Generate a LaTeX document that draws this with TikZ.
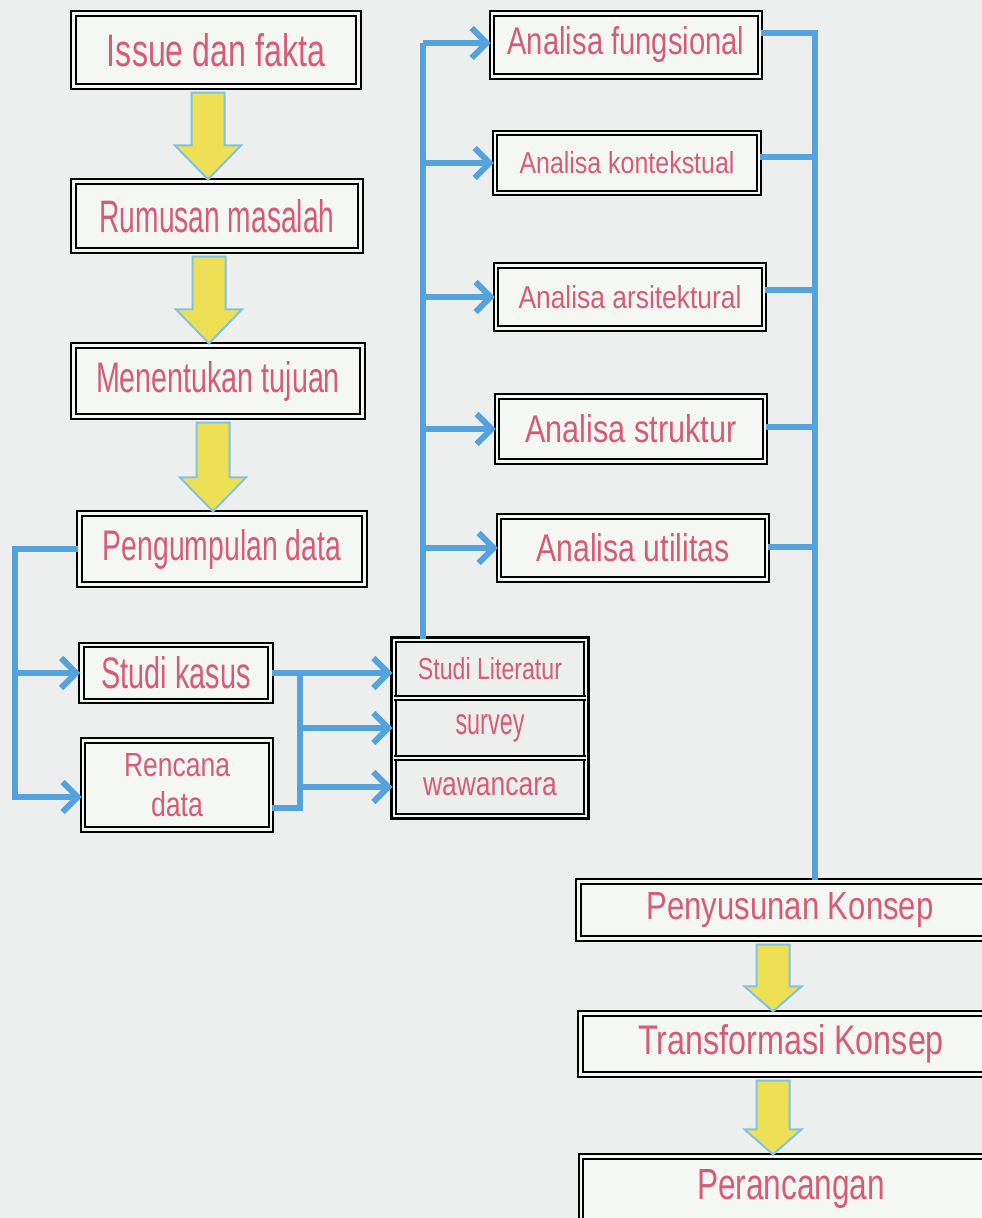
\documentclass[tikz,border=0pt]{standalone}
\usepackage{fontspec}
\setmainfont{Liberation Sans}
\usepackage{graphicx}
\usetikzlibrary{arrows.meta,calc,fit}
\definecolor{bgc}{RGB}{236,239,237}
\definecolor{boxc}{RGB}{245,247,245}
\definecolor{txc}{RGB}{214,92,118}
\definecolor{blc}{RGB}{84,163,222}
\definecolor{yelc}{RGB}{238,224,84}
\definecolor{yelo}{RGB}{128,196,226}
\newcommand\tx[3]{\resizebox{#1pt}{#2pt}{#3}}
% yellow block arrow from box #1 to box #2, x offset #3, head half width #4, head length #5
\newcommand\yarr[5]{%
  \draw[yarrow] let \p1=(#1.south), \p2=(#2.north) in
    ({\x2+#3-16.5pt},{\y1-5pt}) -- ({\x2+#3+16.5pt},{\y1-5pt}) --
    ({\x2+#3+16.5pt},{\y2+#5}) -- ({\x2+#3+#4},{\y2+#5}) --
    ({\x2+#3},{\y2+1pt}) -- ({\x2+#3-#4},{\y2+#5}) --
    ({\x2+#3-16.5pt},{\y2+#5}) -- cycle;}
\begin{document}
\begin{tikzpicture}[x=1pt,y=-1pt,
  box/.style={draw=black, line width=2.2pt, double=boxc, double distance=2.4pt,
    fill=boxc, inner sep=0pt, text=txc, align=center,
    font=\fontsize{30}{36}\selectfont},
  row/.style={inner sep=0pt, text=txc, minimum width=192pt},
  sepl/.style={draw=black, line width=2pt, double=boxc, double distance=2pt},
  bl/.style={draw=blc, line width=6pt},
  bla/.style={bl, -{Straight Barb[length=15pt,width=30pt]}},
  yarrow/.style={fill=yelc, draw=yelo, line width=2pt, line join=miter}]
\useasboundingbox (0,0) rectangle (982,1218);
\fill[bgc] (0,0) rectangle (982,1218);

% left column
\node[box, minimum width=285pt, minimum height=73pt] (issue) at (216,50) {\tx{218}{33}{Issue dan fakta}};
\node[box, minimum width=287pt, minimum height=69pt] (rumus) at (217,216) {\tx{235}{33}{Rumusan masalah}};
\node[box, minimum width=289pt, minimum height=71pt] (tujuan) at (218,381) {\tx{244}{31}{Menentukan tujuan}};
\node[box, minimum width=285pt, minimum height=71pt] (peng) at (222,549) {\tx{238}{31}{Pengumpulan data}};
\node[box, minimum width=189pt, minimum height=56pt] (sk) at (176,673) {\tx{149}{32}{Studi kasus}};
\node[box, minimum width=188pt, minimum height=89pt] (renc) at (177,785) {\tx{106}{23}{Rencana}\\[4pt]\tx{52}{25}{data}};

% studi group
\node[row, minimum height=58pt] (lit) at (490,669) {\tx{144}{22}{Studi Literatur}};
\node[row, minimum height=60pt] (surv) at (490,728) {\tx{69}{20}{survey}};
\node[row, minimum height=58pt] (waw) at (490,787) {\tx{134}{18}{wawancara}};
\node[box, fit=(lit)(waw), inner sep=0pt, fill=none] (grp) {};
\draw[sepl] (lit.south west) -- (lit.south east);
\draw[sepl] (surv.south west) -- (surv.south east);

% analisa column
\node[box, minimum width=268pt, minimum height=63pt] (fung) at (626,45) {\tx{237}{28}{Analisa fungsional}};
\node[box, minimum width=264pt, minimum height=60pt] (kont) at (627,163) {\tx{215}{22}{Analisa kontekstual}};
\node[box, minimum width=268pt, minimum height=63pt] (arsi) at (630,297) {\tx{223}{23}{Analisa arsitektural}};
\node[box, minimum width=268pt, minimum height=65pt] (strk) at (631,429) {\tx{211}{28}{Analisa struktur}};
\node[box, minimum width=268pt, minimum height=63pt] (util) at (633,548) {\tx{193}{28}{Analisa utilitas}};

% bottom column
\node[box, minimum width=423pt, minimum height=57pt] (pen) at (790,910) {\tx{287}{27}{Penyusunan Konsep}};
\node[box, minimum width=421pt, minimum height=61pt] (trans) at (791,1044) {\tx{306}{30}{Transformasi Konsep}};
\node[box, minimum width=420pt, minimum height=65pt] (peran) at (791,1189) {\tx{188}{30}{Perancangan}};

% yellow arrows
\yarr{issue}{rumus}{-9pt}{33pt}{35pt}
\yarr{rumus}{tujuan}{-9pt}{33pt}{35pt}
\yarr{tujuan}{peng}{-9pt}{33pt}{35pt}
\yarr{pen}{trans}{-18pt}{28.5pt}{26pt}
\yarr{trans}{peran}{-18pt}{28.5pt}{26pt}

% left blue connectors
\coordinate (ll) at (15,549);
\coordinate (rl) at (15,797);
\draw[bla] (peng.west) -- (ll) -- (rl) -- (rl -| renc.west);
\draw[bla] (ll |- sk.west) -- (sk.west);

% middle connectors
\coordinate (mj) at (300,673);
\coordinate (mb) at (300,808);
\draw[bl] (sk.east) -- (mj) -- (mb) -- (mb -| renc.east);
\draw[bla] (mj) -- (mj -| grp.west);
\draw[bla] (mj |- surv.west) -- (surv.west -| grp.west);
\draw[bla] (mj |- waw.west) -- (waw.west -| grp.west);

% connectors to analisa boxes
\coordinate (lt) at (423,43);
\draw[bl] (grp.north -| lt) -- (lt);
\draw[bla] (lt) -- (lt -| fung.west);
\draw[bla] (lt |- kont.west) -- (kont.west);
\draw[bla] (lt |- arsi.west) -- (arsi.west);
\draw[bla] (lt |- strk.west) -- (strk.west);
\draw[bla] (lt |- util.west) -- (util.west);

% connectors to penyusunan konsep
\coordinate (rt) at (815,33);
\draw[bl] ([yshift=12pt]fung.east) -- (rt) -- (rt |- pen.north);
\draw[bl] ([yshift=6pt]kont.east) -| (rt);
\draw[bl] ([yshift=7pt]arsi.east) -| (rt);
\draw[bl] ([yshift=2pt]strk.east) -| (rt);
\draw[bl] ([yshift=1pt]util.east) -| (rt);
\end{tikzpicture}
\end{document}
